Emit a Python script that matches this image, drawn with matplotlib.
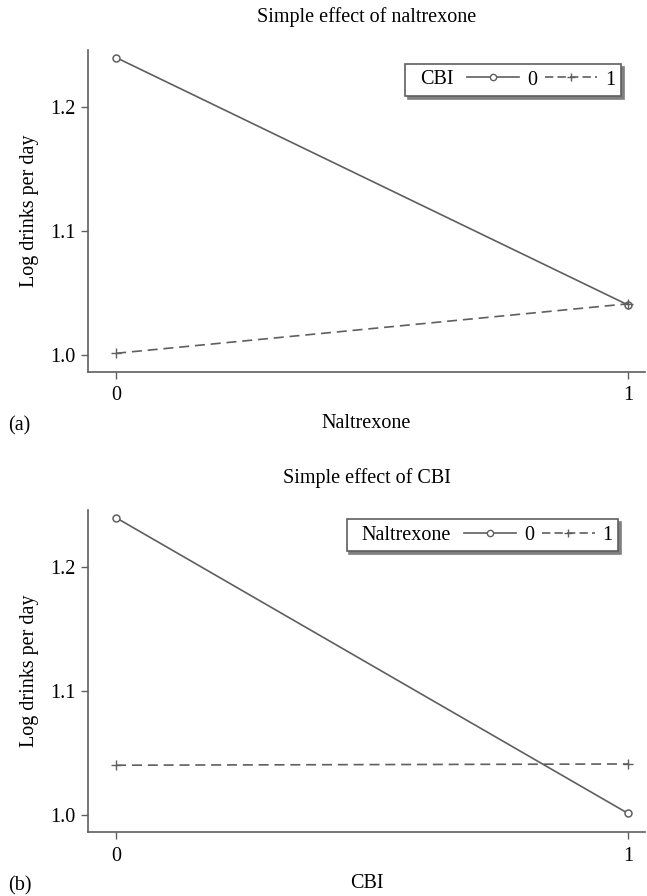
import matplotlib.pyplot as plt
from matplotlib.lines import Line2D
from matplotlib.offsetbox import HPacker, DrawingArea

plt.rcParams['font.family'] = ['Liberation Serif', 'DejaVu Serif']

x_levels = [0, 1]
# panel (a): x = Naltrexone, lines by CBI
a_cbi0 = [1.240, 1.040]
a_cbi1 = [1.001, 1.041]
# panel (b): x = CBI, lines by Naltrexone
b_nal0 = [1.240, 1.001]
b_nal1 = [1.040, 1.041]
yticks = [1.0, 1.1, 1.2]

gray = '#5f5f5f'
fs = 14.5
fig = plt.figure(figsize=(6.47, 8.96), dpi=100)

def panel(rect, y0, y1, title, xlabel, legtitle, tag, anchor):
    ax = fig.add_axes(rect)
    ax.plot(x_levels, y0, color=gray, lw=1.2, marker='o', ms=5, mfc='white', mec=gray, mew=1.1)
    ax.plot(x_levels, y1, color=gray, lw=1.2, ls=(0, (6, 3.5)), marker='+', ms=7, mew=1.0)
    ax.set_xlim(-0.055, 1.033)
    ax.set_ylim(0.986, 1.246)
    ax.set_xticks(x_levels)
    ax.set_yticks(yticks)
    ax.set_yticklabels(['%.1f' % v for v in yticks])
    for s in ['top', 'right']:
        ax.spines[s].set_visible(False)
    for s in ['left', 'bottom']:
        ax.spines[s].set_color(gray)
        ax.spines[s].set_linewidth(1.2)
    ax.tick_params(direction='out', length=5, width=1, color=gray, labelsize=fs, pad=4)
    ax.tick_params(axis='x', pad=5.5)
    ax.set_title(title, fontsize=fs, pad=20)
    ax.set_xlabel(xlabel, fontsize=fs, labelpad=6)
    ax.set_ylabel('Log drinks per day', fontsize=fs, labelpad=8)
    handles = [Line2D([], [], color=gray, lw=1.2, marker='o', ms=4.5, mfc='white', mec=gray),
               Line2D([], [], color=gray, lw=1.2, ls=(0, (5, 2.5)), marker='+', ms=6)]
    leg = ax.legend(handles, ['0', '1'], ncol=2, title=legtitle, title_fontsize=fs,
                    loc='upper right', bbox_to_anchor=anchor, fontsize=fs,
                    frameon=True, fancybox=False,
                    shadow={'color': '0.5', 'alpha': 1.0},
                    handlelength=2.6, handletextpad=0.4, columnspacing=0.4,
                    borderpad=0.1, borderaxespad=0)
    # put the legend title to the left of the entries, on one row
    title_box, handle_box = leg._legend_box.get_children()
    new = HPacker(pad=0, sep=0, align='center',
                  children=[DrawingArea(11, 23), title_box, DrawingArea(9, 1),
                            handle_box, DrawingArea(4, 1)])
    new.set_figure(fig)
    new.axes = ax
    leg._legend_box = new
    leg._set_loc(leg._loc)
    leg.get_frame().set_edgecolor(gray)
    leg.get_frame().set_linewidth(1.2)
    fig.text(0.013, rect[1] - 0.06, tag, fontsize=fs, va='center')
    return ax

panel([0.136, 0.585, 0.861, 0.359], a_cbi0, a_cbi1, 'Simple effect of naltrexone',
      'Naltrexone', 'CBI', '(a)', (0.957, 0.957))
panel([0.136, 0.0714, 0.861, 0.359], b_nal0, b_nal1, 'Simple effect of CBI',
      'CBI', 'Naltrexone', '(b)', (0.952, 0.972))

plt.savefig('out.png', dpi=100)
